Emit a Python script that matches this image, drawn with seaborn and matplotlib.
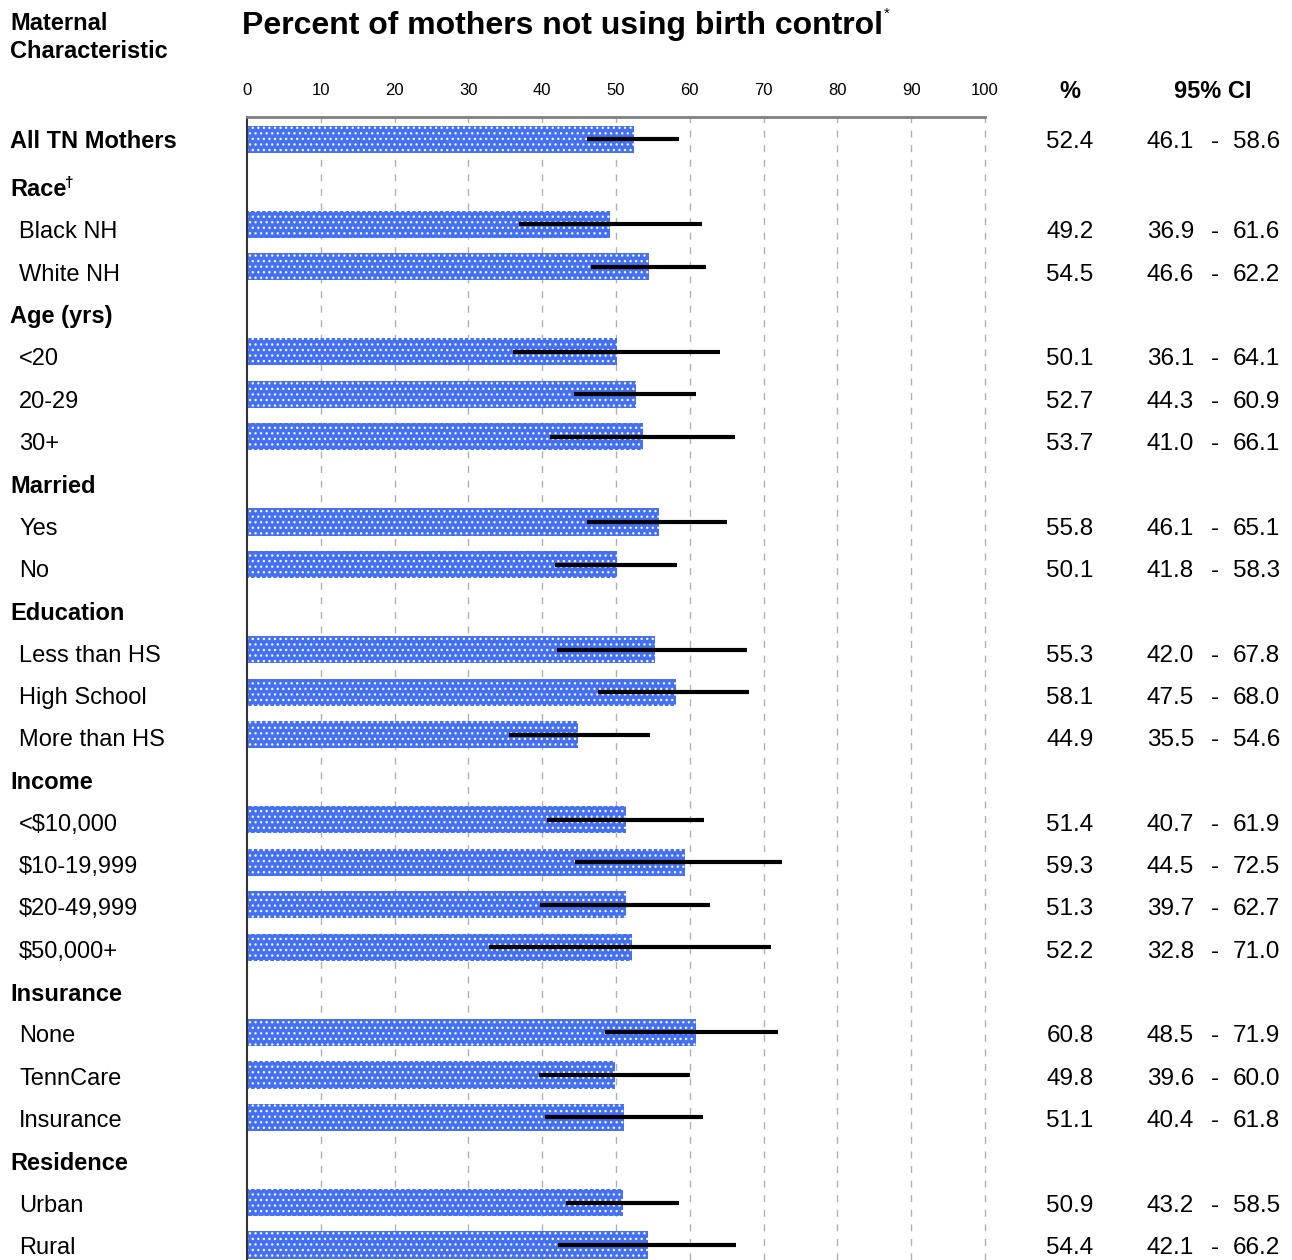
"""
Percent of mothers not using birth control, by maternal characteristic
"""
import pandas as pd
import matplotlib
matplotlib.use("Agg")
import matplotlib.pyplot as plt
import seaborn as sns

# Row layout. Headers carry no bar (except All TN Mothers, which is bold and has one).
row_labels = ["All TN Mothers", "Race", "Black NH", "White NH", "Age (yrs)", "<20", "20-29", "30+",
              "Married", "Yes", "No", "Education", "Less than HS", "High School", "More than HS",
              "Income", "<$10,000", "$10-19,999", "$20-49,999", "$50,000+",
              "Insurance", "None", "TennCare", "Insurance", "Residence", "Urban", "Rural"]
row_is_header = [True, True, False, False, True, False, False, False,
                 True, False, False, True, False, False, False,
                 True, False, False, False, False,
                 True, False, False, False, True, False, False]
row_has_bar = [True, False, True, True, False, True, True, True,
               False, True, True, False, True, True, True,
               False, True, True, True, True,
               False, True, True, True, False, True, True]

pct = [52.4, 49.2, 54.5, 50.1, 52.7, 53.7, 55.8, 50.1, 55.3, 58.1, 44.9,
       51.4, 59.3, 51.3, 52.2, 60.8, 49.8, 51.1, 50.9, 54.4]
ci_low = [46.1, 36.9, 46.6, 36.1, 44.3, 41.0, 46.1, 41.8, 42.0, 47.5, 35.5,
          40.7, 44.5, 39.7, 32.8, 48.5, 39.6, 40.4, 43.2, 42.1]
ci_high = [58.6, 61.6, 62.2, 64.1, 60.9, 66.1, 65.1, 58.3, 67.8, 68.0, 54.6,
           61.9, 72.5, 62.7, 71.0, 71.9, 60.0, 61.8, 58.5, 66.2]
x_ticks = [0, 10, 20, 30, 40, 50, 60, 70, 80, 90, 100]

BAR_BLUE = "#4470f5"
W, H = 1292, 1260

sns.set_style("white")
plt.rcParams["font.family"] = ["Liberation Sans", "DejaVu Sans"]
plt.rcParams["text.color"] = "black"
plt.rcParams["xtick.color"] = "black"
plt.rcParams["hatch.linewidth"] = 0.9
plt.rcParams["hatch.color"] = "white"

row_ids = [f"r{i}" for i in range(len(row_labels))]
bar_ids = [rid for rid, has in zip(row_ids, row_has_bar) if has]
df = pd.DataFrame({"row": bar_ids, "pct": pct, "lo": ci_low, "hi": ci_high})

fig = plt.figure(figsize=(W / 100, H / 100), dpi=100)
ax = fig.add_axes([247 / W, 0.0, (985 - 247) / W, 1 - 117 / H])

sns.barplot(data=df, x="pct", y="row", order=row_ids, orient="h", color=BAR_BLUE,
            width=0.64, saturation=1, errorbar=None, ax=ax, edgecolor="white", linewidth=0)
for patch in ax.patches:
    patch.set_hatch("...")

# confidence interval lines
ypos = [row_ids.index(r) for r in df["row"]]
ax.hlines(ypos, df["lo"], df["hi"], color="black", linewidth=3, zorder=5)

ax.set_xlim(0, 100)
ax.set_ylim(len(row_ids) - 0.65, -0.52)
ax.set_xticks(x_ticks)
ax.set_xticklabels([str(t) for t in x_ticks], fontsize=12)
ax.xaxis.tick_top()
ax.tick_params(axis="x", length=0, pad=14)
ax.set_yticks([])
ax.set_xlabel("")
ax.set_ylabel("")
for xv in x_ticks[1:]:
    ax.axvline(xv, color="#b0b0b0", linewidth=1, linestyle=(0, (5, 5.5)), zorder=0, clip_on=False)
ax.spines["right"].set_visible(False)
ax.spines["bottom"].set_visible(False)
ax.spines["top"].set_color("#808080")
ax.spines["top"].set_linewidth(2)
ax.spines["left"].set_color("#333333")
ax.spines["left"].set_linewidth(1.5)

# text rows sit on their own pixel grid (slightly different from the bar grid)
def fy(ypx):
    return 1 - ypx / H

def row_text_y(i):
    return 142 if i == 0 else 190 + (i - 1) * 42.32

label_texts = {}
for i, (lab, hdr) in enumerate(zip(row_labels, row_is_header)):
    x = 10 / W if hdr else 19 / W
    t = fig.text(x, fy(row_text_y(i)), lab, fontsize=17, va="center", ha="left",
                 fontweight="bold" if hdr else "normal")
    label_texts[i] = t

for rid, p, lo, hi in zip(df["row"], pct, ci_low, ci_high):
    y = fy(row_text_y(row_ids.index(rid)))
    fig.text(1070 / W, y, f"{p:.1f}", fontsize=17.5, va="center", ha="center")
    fig.text(1194 / W, y, f"{lo:.1f}", fontsize=17.5, va="center", ha="right")
    fig.text(1215 / W, y, "-", fontsize=17.5, va="center", ha="center")
    fig.text(1280 / W, y, f"{hi:.1f}", fontsize=17.5, va="center", ha="right")

# headers
fig.text(10 / W, fy(24), "Maternal", fontsize=17, fontweight="bold", va="center")
fig.text(10 / W, fy(52), "Characteristic", fontsize=17, fontweight="bold", va="center")
title = fig.text(242 / W, fy(26), "Percent of mothers not using birth control",
                 fontsize=23, fontweight="bold", va="center")
fig.text(1070 / W, fy(91), "%", fontsize=17, fontweight="bold", va="center", ha="center")
fig.text(1213 / W, fy(91), "95% CI", fontsize=17, fontweight="bold", va="center", ha="center")

# superscripts
fig.canvas.draw()
renderer = fig.canvas.get_renderer()
bb = title.get_window_extent(renderer)
fig.text((bb.x1 + 1) / W, (bb.y1 - 3) / H, "*", fontsize=11, va="center", ha="left")
bb = label_texts[1].get_window_extent(renderer)
fig.text((bb.x1 - 1) / W, (bb.y1 - 5) / H, "\u2020", fontsize=11, fontweight="bold",
         va="center", ha="left")

fig.savefig("out.png", dpi=100)
